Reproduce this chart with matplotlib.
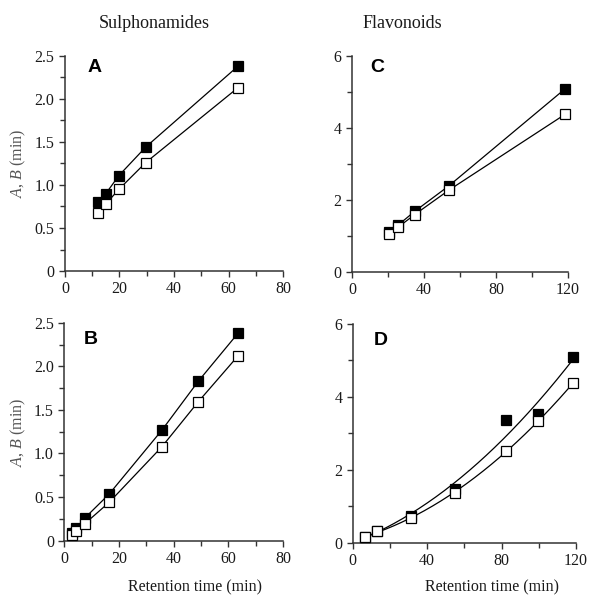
import numpy as np
import matplotlib
matplotlib.use("Agg")
import matplotlib.pyplot as plt
from matplotlib.ticker import MultipleLocator

plt.rcParams["mathtext.fontset"] = "custom"
plt.rcParams["mathtext.it"] = "Liberation Serif:italic"
plt.rcParams["mathtext.rm"] = "Liberation Serif"

# Sulphonamides, panel A (retention time, A and B parameters)
a_time = [12.0, 15.0, 19.8, 29.6, 63.4]
a_filled = [0.80, 0.90, 1.11, 1.44, 2.38]
a_open = [0.67, 0.78, 0.95, 1.26, 2.13]

# Sulphonamides, panel B
b_time = [2.7, 4.4, 7.5, 16.4, 35.6, 49.0, 63.5]
b_filled = [0.09, 0.14, 0.26, 0.535, 1.265, 1.83, 2.38]
b_open = [0.07, 0.11, 0.195, 0.44, 1.075, 1.595, 2.12]

# Flavonoids, panel C
c_time = [20.7, 25.7, 34.9, 53.9, 118.5]
c_filled = [1.09, 1.30, 1.68, 2.39, 5.09]
c_open = [1.04, 1.24, 1.59, 2.27, 4.38]

# Flavonoids, panel D
d_time = [6.3, 13.1, 31.2, 55.2, 82.2, 99.8, 118.6]
d_filled = [0.16, 0.32, 0.74, 1.48, 3.37, 3.53, 5.10]
d_open = [0.15, 0.31, 0.68, 1.37, 2.51, 3.35, 4.37]

serif = ["Liberation Serif", "DejaVu Serif"]
sans = ["Liberation Sans", "DejaVu Sans"]
ink = "#1a1a1a"

fig = plt.figure(figsize=(5.9, 5.95), dpi=100)

axA = fig.add_axes([0.110, 0.5445, 0.370, 0.3615])
axC = fig.add_axes([0.5966, 0.5434, 0.3661, 0.3626])
axB = fig.add_axes([0.109, 0.0913, 0.371, 0.3663])
axD = fig.add_axes([0.598, 0.0879, 0.378, 0.3676])

MS = 7.5
LW = 0.9


def style(ax, xmax, xmaj, xmin, ymax, ymaj, ymin, yfmt):
    ax.set_xlim(0, xmax)
    ax.set_ylim(0, ymax)
    ax.xaxis.set_major_locator(MultipleLocator(xmaj))
    ax.xaxis.set_minor_locator(MultipleLocator(xmin))
    ax.yaxis.set_major_locator(MultipleLocator(ymaj))
    ax.yaxis.set_minor_locator(MultipleLocator(ymin))
    ax.yaxis.set_major_formatter(plt.FuncFormatter(yfmt))
    ax.xaxis.set_major_formatter(plt.FuncFormatter(lambda v, p: f"{v:.0f}"))
    for s in ("top", "right"):
        ax.spines[s].set_visible(False)
    for s in ("left", "bottom"):
        ax.spines[s].set_linewidth(1.1)
        ax.spines[s].set_color("#333333")
    ax.tick_params(which="major", direction="out", length=4.5, width=1.0,
                   color="#333333", labelsize=11.5, labelcolor=ink, pad=3)
    ax.tick_params(which="minor", direction="out", length=3.5, width=1.0,
                   color="#333333")
    for lab in ax.get_xticklabels() + ax.get_yticklabels():
        lab.set_family(serif)


def fmt_half(v, p):
    return "0" if v == 0 else f"{v:.1f}"


def fmt_int(v, p):
    return f"{v:.0f}"


def points(ax, x, yf, yo):
    ax.plot(x, yf, "s", ms=MS, mfc="black", mec="black", mew=0.9,
            clip_on=False, zorder=3)
    ax.plot(x, yo, "s", ms=MS, mfc="white", mec="black", mew=0.9,
            clip_on=False, zorder=4)


# Panel A: joined points
axA.plot(a_time, a_filled, "-", color="black", lw=LW, zorder=2)
axA.plot(a_time, a_open, "-", color="black", lw=LW, zorder=2)
points(axA, a_time, a_filled, a_open)
style(axA, 80, 20, 10, 2.5, 0.5, 0.25, fmt_half)

# Panel B: joined points
axB.plot(b_time, b_filled, "-", color="black", lw=LW, zorder=2)
axB.plot(b_time, b_open, "-", color="black", lw=LW, zorder=2)
points(axB, b_time, b_filled, b_open)
style(axB, 80, 20, 10, 2.5, 0.5, 0.25, fmt_half)

# Panel C: joined points
axC.plot(c_time, c_filled, "-", color="black", lw=LW, zorder=2)
axC.plot(c_time, c_open, "-", color="black", lw=LW, zorder=2)
points(axC, c_time, c_filled, c_open)
style(axC, 120, 40, 20, 6, 2, 1, fmt_int)

# Panel D: second-order fits through the points
xs = np.linspace(min(d_time), max(d_time), 200)
for ys in (d_filled, d_open):
    coef = np.polyfit(d_time, ys, 2)
    axD.plot(xs, np.polyval(coef, xs), "-", color="black", lw=LW, zorder=2)
points(axD, d_time, d_filled, d_open)
style(axD, 120, 40, 20, 6, 2, 1, fmt_int)

# Panel letters
for ax, letter, fx, fy in ((axA, "A", 0.105, 0.985), (axB, "B", 0.087, 0.96),
                           (axC, "C", 0.083, 0.985), (axD, "D", 0.094, 0.962)):
    ax.text(fx, fy, letter, transform=ax.transAxes, ha="left", va="top",
            fontsize=14, fontweight="bold", family=sans, color="black")

# Column headings
fig.text(154 / 590, 1 - 23 / 595, "Sulphonamides", ha="center", va="center",
         fontsize=13, family=serif, color=ink)
fig.text(402 / 590, 1 - 23 / 595, "Flavonoids", ha="center", va="center",
         fontsize=13, family=serif, color=ink)

# Axis titles
for ax, yc in ((axA, 163), (axB, 432)):
    fig.text(18 / 590, 1 - yc / 595, r"$\mathit{A}$, $\mathit{B}$ (min)",
             rotation=90, ha="center", va="center", fontsize=11.5,
             family=serif, color="#555555")

fig.text(195 / 590, 1 - 587 / 595, "Retention time (min)", ha="center",
         va="center", fontsize=11.5, family=serif, color=ink)
fig.text(492 / 590, 1 - 587 / 595, "Retention time (min)", ha="center",
         va="center", fontsize=11.5, family=serif, color=ink)

fig.savefig("out.png", dpi=100, facecolor="white")
